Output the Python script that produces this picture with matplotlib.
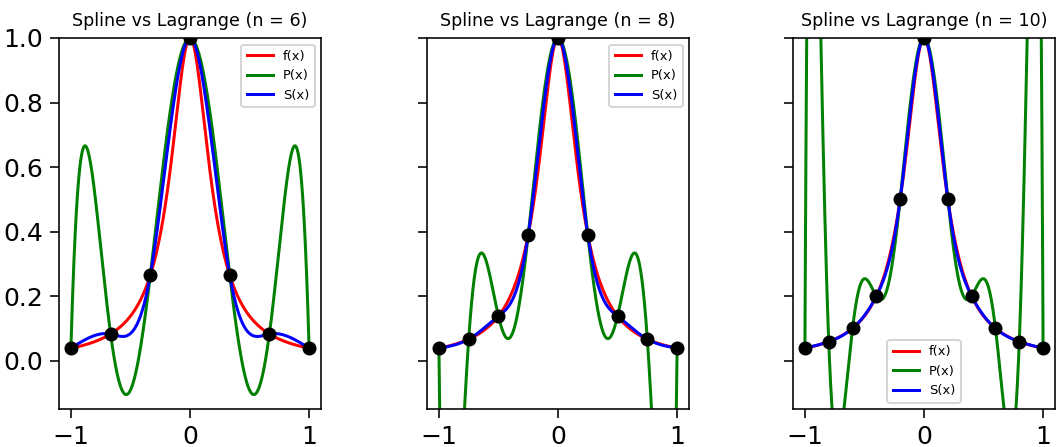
import numpy as np
import matplotlib
matplotlib.use("Agg")
import matplotlib.pyplot as plt

DPI = 144
N_LIST = [6, 8, 10]
# node values (left half, mirrored)
NODES_Y = {
    6: [0.0385, 0.0826, 0.2647, 1.0],
    8: [0.0385, 0.0664, 0.1379, 0.3902, 1.0],
    10: [0.0385, 0.0588, 0.1, 0.2, 0.5, 1.0],
}
YLIM = (-0.15, 1.0)


def runge(x):
    return 1.0 / (1.0 + 25.0 * x ** 2)


def natural_spline(xk, yk, xs):
    n = len(xk) - 1
    h = np.diff(xk)
    A = np.zeros((n + 1, n + 1))
    b = np.zeros(n + 1)
    A[0, 0] = A[n, n] = 1.0
    for i in range(1, n):
        A[i, i - 1] = h[i - 1]
        A[i, i] = 2 * (h[i - 1] + h[i])
        A[i, i + 1] = h[i]
        b[i] = 6 * ((yk[i + 1] - yk[i]) / h[i] - (yk[i] - yk[i - 1]) / h[i - 1])
    M = np.linalg.solve(A, b)
    idx = np.clip(np.searchsorted(xk, xs) - 1, 0, n - 1)
    x0, x1 = xk[idx], xk[idx + 1]
    hh = x1 - x0
    return (M[idx] * (x1 - xs) ** 3 / (6 * hh) + M[idx + 1] * (xs - x0) ** 3 / (6 * hh)
            + (yk[idx] / hh - M[idx] * hh / 6) * (x1 - xs)
            + (yk[idx + 1] / hh - M[idx + 1] * hh / 6) * (xs - x0))


fig = plt.figure(figsize=(1057 / DPI, 447 / DPI), dpi=DPI)
W, H = 1057, 447
lefts = [59, 427, 793]
xs = np.linspace(-1, 1, 1000)

for k, n in enumerate(N_LIST):
    ax = fig.add_axes([lefts[k] / W, 38 / H, 262 / W, 371 / H])
    half = NODES_Y[n]
    yk = np.array(half + half[-2::-1])
    xk = np.linspace(-1, 1, n + 1)
    coef = np.polyfit(xk, yk, n)
    ax.plot(xs, runge(xs), color="red", lw=1.5, label="f(x)")
    ax.plot(xs, np.polyval(coef, xs), color="green", lw=1.5, label="P(x)")
    ax.plot(xs, natural_spline(xk, yk, xs), color="blue", lw=1.5, label="S(x)")
    ax.plot(xk, yk, "o", color="black", ms=6)
    ax.set_ylim(*YLIM)
    ax.set_xticks([-1, 0, 1])
    ax.tick_params(labelsize=12.5, length=4.5)
    ax.set_title(f"Spline vs Lagrange (n = {n})", fontsize=8.75)
    if k > 0:
        ax.set_yticklabels([])
    ax.legend(fontsize=6.5)

fig.savefig("out.png", dpi=DPI)
